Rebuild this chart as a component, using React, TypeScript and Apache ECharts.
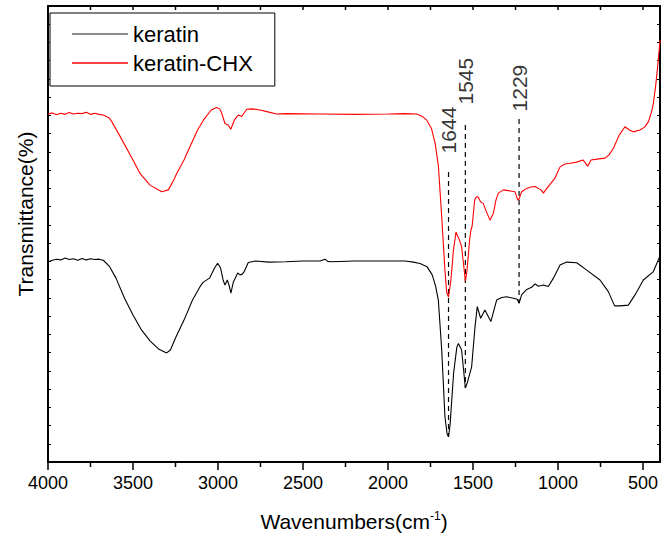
import React, { useEffect, useRef } from "react";
import * as echarts from "echarts";

// ---- data ----
const keratinWavenumber = [
  4000, 3975, 3950, 3925, 3900, 3875, 3850, 3825, 3800, 3775, 3750, 3725, 3700, 3675, 3640, 3600,
  3550, 3500, 3450, 3400, 3350, 3302, 3280, 3250, 3200, 3150, 3100, 3086, 3050, 3020, 3002, 2985,
  2970, 2959, 2945, 2935, 2924, 2910, 2884, 2870, 2857, 2847, 2822, 2780, 2700, 2600, 2500, 2400,
  2370, 2355, 2330, 2200, 2000, 1900, 1850, 1812, 1770, 1740, 1720, 1704, 1684, 1665, 1652, 1644,
  1635, 1614, 1595, 1586, 1567, 1555, 1545, 1535, 1508, 1488, 1475, 1455, 1430, 1395, 1361, 1331,
  1302, 1263, 1240, 1229, 1214, 1184, 1155, 1135, 1115, 1086, 1057, 1027, 988, 949, 890, 831,
  753, 704, 667, 635, 586, 547, 498, 439, 400,
];
const keratinTransmittance = [
  54.8, 55.3, 55.6, 55.4, 55.9, 55.5, 55.7, 55.3, 55.8, 55.4, 55.7, 55.5, 55.6, 55.3, 53.7, 50.4,
  44.9, 40.3, 36.2, 33.2, 31.0, 29.9, 30.7, 34.0, 38.9, 44.4, 48.5, 49.3, 50.4, 53.2, 54.5, 53.2,
  49.9, 48.5, 49.9, 48.5, 46.3, 49.3, 51.8, 51.3, 51.5, 52.1, 54.7, 55.1, 54.8, 54.9, 55.1, 55.1,
  55.6, 55.0, 54.9, 55.1, 55.1, 55.1, 54.8, 54.4, 53.5, 51.3, 48.2, 44.4, 30.7, 12.4, 7.6, 6.9,
  10.1, 24.4, 31.5, 32.5, 30.7, 25.0, 20.3, 21.5, 26.1, 37.1, 42.6, 39.4, 41.7, 38.5, 44.4, 45.1,
  45.3, 44.9, 44.6, 43.5, 45.8, 47.3, 47.9, 48.8, 48.2, 48.5, 48.1, 50.4, 54.0, 54.8, 54.6, 52.6,
  49.9, 46.7, 42.8, 42.8, 43.0, 45.8, 49.9, 52.2, 56.5,
];

const chxWavenumber = [
  4000, 3975, 3950, 3925, 3900, 3875, 3850, 3825, 3800, 3775, 3750, 3725, 3700, 3675, 3640, 3625,
  3580, 3500, 3459, 3400, 3331, 3292, 3260, 3243, 3200, 3165, 3120, 3086, 3040, 3008, 2990, 2978,
  2959, 2940, 2925, 2904, 2890, 2880, 2861, 2831, 2800, 2753, 2700, 2655, 2600, 2400, 2200, 2000,
  1900, 1831, 1800, 1772, 1745, 1723, 1704, 1684, 1665, 1655, 1644, 1630, 1615, 1600, 1580, 1567,
  1555, 1545, 1535, 1520, 1512, 1505, 1490, 1480, 1469, 1455, 1440, 1420, 1400, 1380, 1365, 1351,
  1321, 1280, 1253, 1237, 1229, 1214, 1184, 1160, 1135, 1100, 1086, 1066, 1040, 1018, 988, 960,
  929, 890, 853, 825, 806, 760, 723, 700, 674, 640, 606, 580, 557, 518, 490, 468, 450, 439, 425,
  410, 400,
];
const chxTransmittance = [
  95.4, 95.7, 95.2, 95.6, 95.3, 95.8, 95.4, 95.6, 95.5, 95.9, 95.3, 95.6, 95.3, 95.1, 94.3, 93.3,
  89.6, 82.8, 79.1, 75.9, 74.1, 74.6, 77.3, 79.1, 82.8, 86.4, 91.0, 93.7, 96.5, 97.2, 96.8, 95.6,
  92.8, 92.4, 91.2, 93.7, 94.6, 95.1, 94.7, 96.7, 96.8, 96.5, 95.9, 95.4, 95.5, 95.4, 95.3, 95.4,
  95.5, 95.4, 94.8, 93.7, 91.5, 87.4, 81.4, 67.2, 52.6, 46.6, 45.2, 49.9, 58.1, 63.0, 60.9, 59.0,
  54.0, 49.6, 52.6, 60.9, 63.6, 64.7, 71.8, 72.7, 72.6, 71.3, 70.9, 68.5, 66.3, 68.2, 71.8, 73.7,
  74.6, 74.3, 74.1, 71.8, 72.1, 74.1, 75.0, 75.4, 75.5, 74.6, 73.7, 75.0, 76.5, 77.8, 80.9, 81.7,
  81.9, 82.2, 82.8, 81.1, 82.8, 83.1, 83.3, 84.2, 86.0, 89.6, 91.9, 91.0, 90.5, 91.0, 91.8, 93.3,
  95.9, 98.3, 103.3, 110.2, 115.7,
];

const peakLabels = ["1644", "1545", "1229"];
const peakWavenumber = [1644, 1545, 1229];
const peakLineTop = [79.5, 92.4, 94.0];
const peakLineBottom = [7.1, 20.3, 43.6];
const peakLabelCenter = [91.0, 104.4, 102.5];

const majorTicks = [500, 1000, 1500, 2000, 2500, 3000, 3500, 4000];
const minorTicks = [750, 1250, 1750, 2250, 2750, 3250, 3750];

const SANS = '"Liberation Sans", Arial, sans-serif';

const Y_MIN = 0;
const Y_MAX = 125;

const zip = (xs: number[], ys: number[]) => xs.map((x, i) => [x, ys[i]]);

export default function App() {
  const ref = useRef<HTMLDivElement>(null);
  useEffect(() => {
    if (!ref.current) return;
    const chart = echarts.init(ref.current, undefined, { renderer: "svg" });
    const baseX = {
      type: "value" as const,
      min: 400,
      max: 4000,
      inverse: true,
      splitLine: { show: false },
    };
    const baseY = {
      type: "value" as const,
      min: Y_MIN,
      max: Y_MAX,
      interval: 5,
      splitLine: { show: false },
      axisLabel: { show: false },
    };
    const dashed = peakWavenumber.map((w, i) => ({
      type: "line",
      xAxisIndex: 0,
      yAxisIndex: 0,
      symbol: "none",
      silent: true,
      lineStyle: { color: "#000", width: 1.2, type: [5, 4] },
      data: [
        [w, peakLineTop[i]],
        [w, peakLineBottom[i]],
      ],
      z: 1,
    }));
    // axis tick marks of the wavenumber axis, drawn as short segments in data space
    const unitsPerPx = (Y_MAX - Y_MIN) / 456;
    const tickSeg = (v: number, from: number, lenPx: number, dir: number) => ({
      type: "line",
      xAxisIndex: 0,
      yAxisIndex: 0,
      symbol: "none",
      silent: true,
      clip: false,
      z: 10,
      lineStyle: { color: "#000", width: 1.5, type: "solid" },
      data: [
        [v, from],
        [v, from + dir * lenPx * unitsPerPx],
      ],
    });
    const tickSeries = [
      ...majorTicks.map((v) => tickSeg(v, Y_MIN, 8, -1)),
      ...minorTicks.map((v) => tickSeg(v, Y_MIN, 5, -1)),
      ...[...majorTicks, ...minorTicks].filter((v) => v < 4000).map((v) => tickSeg(v, Y_MAX, 4, -1)),
    ];
    chart.setOption({
      animation: false,
      grid: { left: 48, right: 1, top: 6, bottom: 83, containLabel: false, outerBoundsMode: "none" },
      legend: {
        data: [
          { name: "keratin", icon: "rect", itemStyle: { color: "#666" } },
          { name: "keratin-CHX", icon: "rect" },
        ],
        orient: "vertical",
        left: 50,
        top: 13,
        itemWidth: 56,
        itemHeight: 1.6,
        itemGap: 7,
        padding: [10, 22, 12, 22],
        borderColor: "#000",
        borderWidth: 1,
        backgroundColor: "#fff",
        textStyle: { fontFamily: SANS, fontSize: 22, color: "#000", lineHeight: 20 },
      },
      xAxis: [
        {
          ...baseX,
          position: "bottom",
          axisLine: { show: true, onZero: false, lineStyle: { color: "#000", width: 2 } },
          axisTick: { show: false },
          axisLabel: {
            show: true,
            customValues: majorTicks,
            formatter: (v: number) => String(v),
            fontFamily: SANS,
            fontSize: 18,
            color: "#000",
            margin: 12,
          },
        },
        {
          ...baseX,
          position: "top",
          axisLine: { show: true, onZero: false, lineStyle: { color: "#000", width: 2 } },
          axisTick: { show: false },
          axisLabel: { show: false },
        },
      ],
      yAxis: [
        {
          ...baseY,
          position: "left",
          axisLine: { show: true, onZero: false, lineStyle: { color: "#000", width: 2 } },
          axisTick: { show: true, inside: true, length: 3, lineStyle: { color: "#000", width: 1 } },
        },
        {
          ...baseY,
          position: "right",
          axisLine: { show: true, onZero: false, lineStyle: { color: "#000", width: 2 } },
          axisTick: { show: true, inside: true, length: 3, lineStyle: { color: "#000", width: 1 } },
        },
      ],
      series: [
        ...dashed,
        ...tickSeries,
        {
          name: "keratin",
          type: "line",
          xAxisIndex: 0,
          yAxisIndex: 0,
          symbol: "none",
          color: "#000",
          lineStyle: { color: "#000", width: 1.1 },
          data: zip(keratinWavenumber, keratinTransmittance),
          z: 3,
        },
        {
          name: "keratin-CHX",
          type: "line",
          xAxisIndex: 0,
          yAxisIndex: 0,
          symbol: "none",
          color: "#ff0000",
          lineStyle: { color: "#ff0000", width: 1.1 },
          data: zip(chxWavenumber, chxTransmittance),
          z: 3,
        },
        {
          type: "scatter",
          xAxisIndex: 0,
          yAxisIndex: 0,
          symbolSize: 0,
          silent: true,
          data: peakWavenumber.map((w, i) => ({ value: [w, peakLabelCenter[i]], name: peakLabels[i] })),
          label: {
            show: true,
            position: "inside",
            rotate: 90,
            formatter: (p: any) => p.name,
            fontFamily: SANS,
            fontSize: 21,
            color: "#000",
          },
        },
      ],
      graphic: [
        {
          type: "text",
          x: 354,
          y: 521,
          style: {
            text: "{a|Wavenumbers(cm}{s|-1}{a|)}",
            textAlign: "center",
            textVerticalAlign: "middle",
            rich: {
              a: { fontFamily: SANS, fontSize: 21, fill: "#000" },
              s: { fontFamily: SANS, fontSize: 12, fill: "#000", padding: [0, 0, 11, 0] },
            },
          },
        },
        {
          type: "text",
          x: 25,
          y: 214,
          rotation: Math.PI / 2,
          style: {
            text: "Transmittance(%)",
            textAlign: "center",
            textVerticalAlign: "middle",
            fontFamily: SANS,
            fontSize: 21,
            fill: "#000",
          },
        },
      ],
    });
    return () => chart.dispose();
  }, []);
  return (
    <div
      ref={ref}
      style={{ position: "fixed", left: 0, top: 0, width: 661, height: 545, background: "#fff" }}
    />
  );
}
